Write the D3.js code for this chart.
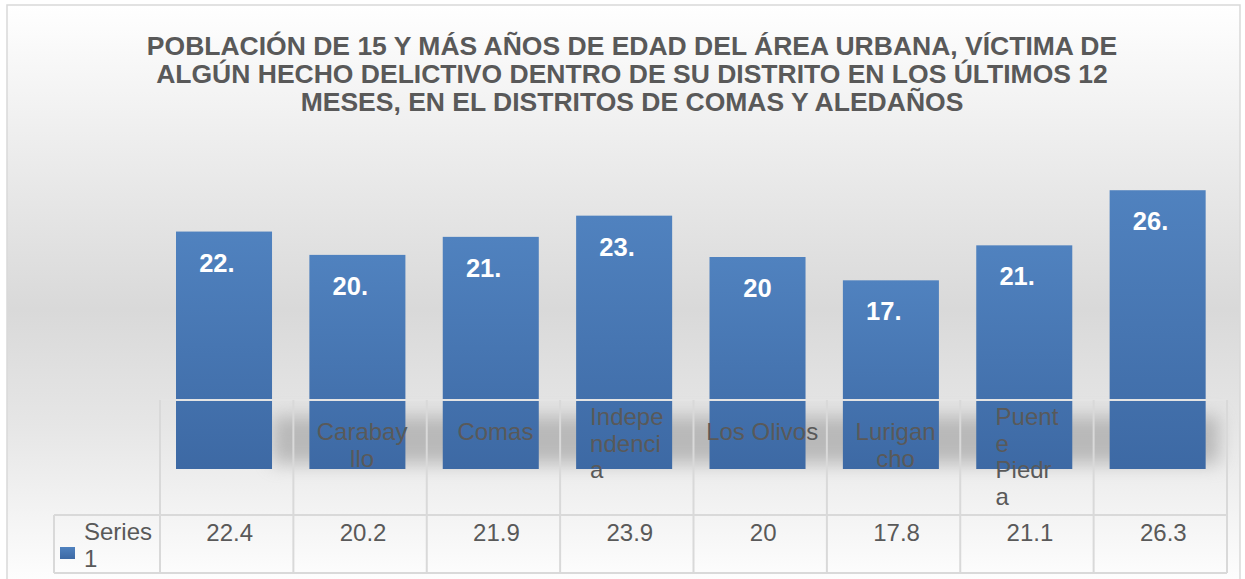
<!DOCTYPE html>
<html>
<head>
<meta charset="utf-8">
<script src="https://cdn.jsdelivr.net/npm/d3@7"></script>
<style>
  body { margin: 0; background: #ffffff; }
  svg { display: block; font-family: "Liberation Sans", Arial, sans-serif; }
</style>
</head>
<body>
<script>
// ---- data ----
const titleLines = [
  "POBLACIÓN DE 15 Y MÁS AÑOS DE EDAD DEL ÁREA URBANA, VÍCTIMA DE",
  "ALGÚN HECHO DELICTIVO DENTRO DE SU DISTRITO EN LOS ÚLTIMOS 12",
  "MESES, EN EL DISTRITOS DE COMAS Y ALEDAÑOS"
];
const categories = ["", "Carabayllo", "Comas", "Independencia", "Los Olivos", "Lurigancho", "Puente Piedra", ""];
// how the category names appear wrapped in the data table
const categoryLines = [[""], ["Carabay", "llo"], ["Comas"], ["Indepe", "ndenci", "a"], ["Los Olivos"], ["Lurigan", "cho"], ["Puent", "e", "Piedr", "a"], [""]];
const seriesName = ["Series", "1"];
const values = [22.4, 20.2, 21.9, 23.9, 20, 17.8, 21.1, 26.3];

// ---- layout ----
const W = 1245, H = 579;
const svg = d3.select("body").append("svg").attr("width", W).attr("height", H);
const defs = svg.append("defs");

const bg = defs.append("linearGradient").attr("id", "bg").attr("x1", 0).attr("y1", 0).attr("x2", 0).attr("y2", 1);
bg.append("stop").attr("offset", "0%").attr("stop-color", "#ffffff");
bg.append("stop").attr("offset", "20%").attr("stop-color", "#f0f0f0");
bg.append("stop").attr("offset", "52%").attr("stop-color", "#d9d9d9");
bg.append("stop").attr("offset", "72%").attr("stop-color", "#e6e6e6");
bg.append("stop").attr("offset", "100%").attr("stop-color", "#ffffff");

const bg2 = defs.append("linearGradient").attr("id", "barg").attr("x1", 0).attr("y1", 0).attr("x2", 0).attr("y2", 1);
bg2.append("stop").attr("offset", "0%").attr("stop-color", "#5082bf");
bg2.append("stop").attr("offset", "100%").attr("stop-color", "#3d69a4");

const blur = defs.append("filter").attr("id", "blur").attr("x", "-20%").attr("y", "-80%").attr("width", "140%").attr("height", "260%");
blur.append("feGaussianBlur").attr("stdDeviation", 9);

// background / chart area
svg.append("rect").attr("x", 7).attr("y", 5).attr("width", 1233).attr("height", 585)
  .attr("fill", "url(#bg)").attr("stroke", "#d9d9d9").attr("stroke-width", 1.5);

// title
svg.append("g").selectAll("text").data(titleLines).join("text")
  .attr("x", 632).attr("y", (d, i) => 55 + i * 28)
  .attr("text-anchor", "middle").attr("font-size", 26.5).attr("font-weight", "bold")
  .attr("fill", "#595959").text(d => d);

// scales
const col = d3.scaleBand().domain(d3.range(categories.length)).range([160, 1227]).padding(0);
const y = d3.scaleLinear().domain([0, 30]).range([469, 151]);
const barW = col.bandwidth() * 0.72;
const barX = i => col(i) + 16;

// shadow band behind bars
svg.append("rect").attr("x", barX(0) + barW).attr("y", 416)
  .attr("width", col(categories.length - 1) + col.bandwidth() - (barX(0) + barW) - 8).attr("height", 48)
  .attr("fill", "#9a9a9a").attr("opacity", 0.6).attr("filter", "url(#blur)");

// bars
svg.append("g").selectAll("rect").data(values).join("rect")
  .attr("x", (d, i) => barX(i)).attr("width", barW)
  .attr("y", d => y(d)).attr("height", d => y(0) - y(d))
  .attr("fill", "url(#barg)");

// data labels (truncated like the original)
const lab = svg.append("g");
values.forEach((v, i) => {
  const full = String(v);
  const tmp = lab.append("text").attr("font-size", 25.5).attr("font-weight", "bold").text(full);
  const fw = tmp.node().getComputedTextLength();
  tmp.remove();
  lab.append("text")
    .attr("x", barX(i) + barW / 2 - fw / 2).attr("y", y(v) + 40)
    .attr("font-size", 25.5).attr("font-weight", "bold").attr("fill", "#ffffff")
    .text(full.slice(0, 3));
});

// data table grid
const grid = svg.append("g").attr("stroke", "#d9d9d9").attr("stroke-width", 2).attr("fill", "none");
const tTop = 400, tMid = 515, tBot = 573, xL = col.range()[0], xR = col.range()[1];
grid.append("line").attr("x1", xL).attr("x2", xR).attr("y1", tTop).attr("y2", tTop).attr("stroke", "#e4e4e4");
grid.append("line").attr("x1", 54).attr("x2", xR).attr("y1", tMid).attr("y2", tMid);
grid.append("line").attr("x1", 54).attr("x2", xR).attr("y1", tBot).attr("y2", tBot);
grid.append("line").attr("x1", 54).attr("x2", 54).attr("y1", tMid).attr("y2", tBot);
d3.range(categories.length + 1).forEach(i => {
  const x = xL + i * col.step();
  grid.append("line").attr("x1", x).attr("x2", x).attr("y1", tTop).attr("y2", tBot);
});

// category labels
const cat = svg.append("g").attr("font-size", 24).attr("fill", "#595959");
categoryLines.forEach((lines, i) => {
  const cx = col(i) + col.bandwidth() / 2;
  const n = lines.length;
  const y0 = n >= 3 ? 425 : 440;
  const g = cat.append("g");
  const ts = g.selectAll("text").data(lines).join("text")
    .attr("y", (d, k) => y0 + k * 26.7).text(d => d);
  if (n <= 2) {
    ts.attr("x", cx + 2).attr("text-anchor", "middle");
  } else {
    let mw = 0;
    ts.each(function () { mw = Math.max(mw, this.getComputedTextLength()); });
    ts.attr("x", cx - mw / 2).attr("text-anchor", "start");
  }
});

// value row
svg.append("g").selectAll("text").data(values).join("text")
  .attr("x", (d, i) => col(i) + col.bandwidth() / 2 + 3).attr("y", 541)
  .attr("text-anchor", "middle").attr("font-size", 24).attr("fill", "#595959")
  .text(d => String(d));

// legend cell
svg.append("rect").attr("x", 60).attr("y", 547).attr("width", 15).attr("height", 12).attr("fill", "url(#barg)");
svg.append("g").selectAll("text").data(seriesName).join("text")
  .attr("x", 84).attr("y", (d, i) => 540 + i * 27)
  .attr("font-size", 24).attr("fill", "#595959").text(d => d);
</script>
</body>
</html>
